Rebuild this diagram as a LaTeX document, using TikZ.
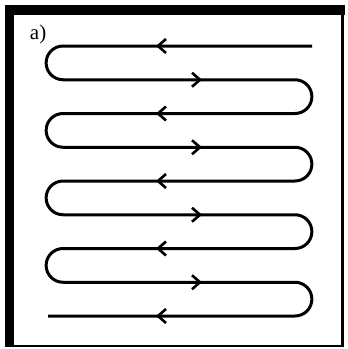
\documentclass[tikz,border=0pt]{standalone}
\usepackage{fontspec}
\setmainfont{Liberation Serif}
\begin{document}
\begin{tikzpicture}[x=1pt,y=-1pt, line width=3pt,
  chev/.style={line width=2.6pt, line join=miter},
  frame/.style={fill=black}]
\useasboundingbox (0,0) rectangle (348,349);
% frame
\fill[frame] (5,5) rectangle (345,15);
\fill[frame] (5,5) rectangle (14,347);
\fill[frame] (341,5) rectangle (344,347);
\fill[frame] (5,344.5) rectangle (344,347);
% label
\node[anchor=base west, inner sep=0, font=\fontsize{21}{21}\selectfont] (lbl) at (28.5,39.5) {a)};
% serpentine
\draw (312,46) -- (63,46)
  arc[start angle=270,end angle=90,radius=16.875] -- (295,79.75)
  arc[start angle=-90,end angle=90,radius=16.875] -- (63,113.5)
  arc[start angle=270,end angle=90,radius=16.875] -- (295,147.25)
  arc[start angle=-90,end angle=90,radius=16.875] -- (63,181)
  arc[start angle=270,end angle=90,radius=16.875] -- (295,214.75)
  arc[start angle=-90,end angle=90,radius=16.875] -- (63,248.5)
  arc[start angle=270,end angle=90,radius=16.875] -- (295,282.25)
  arc[start angle=-90,end angle=90,radius=16.875] -- (48,316);
% arrow chevrons
\foreach \y in {46,113.5,181,248.5,316}
  \draw[chev] (166,\y-7) -- (158,\y) -- (166,\y+7);
\foreach \y in {79.75,147.25,214.75,282.25}
  \draw[chev] (192,\y-7) -- (200,\y) -- (192,\y+7);
\end{tikzpicture}
\end{document}
